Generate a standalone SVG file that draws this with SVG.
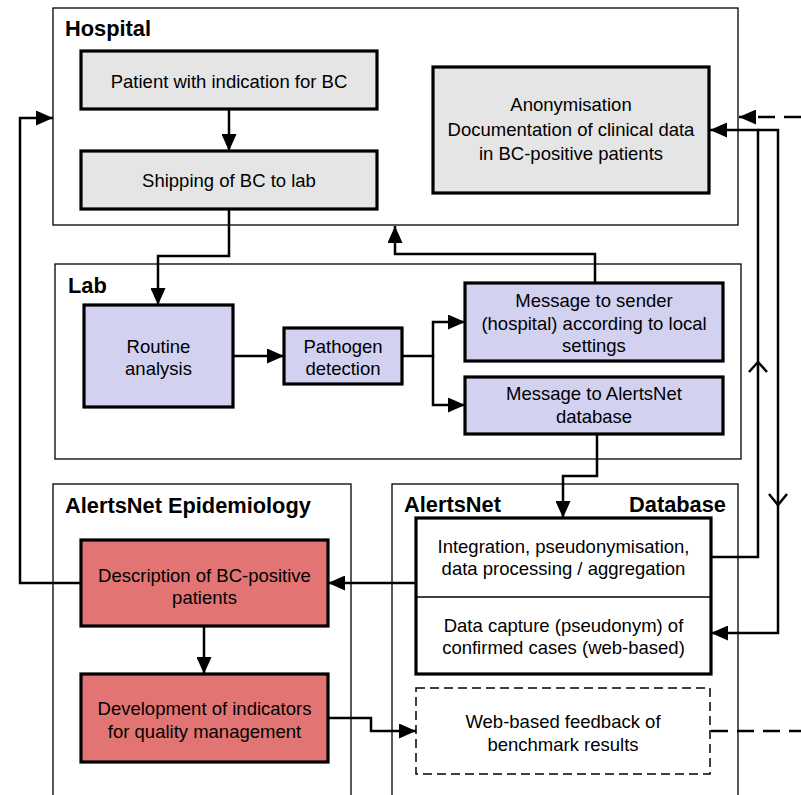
<svg xmlns="http://www.w3.org/2000/svg" width="801" height="795" viewBox="0 0 801 795">
<defs>
<style>
.cont{fill:#fff;stroke:#000;stroke-width:1.3}
.box{stroke:#000;stroke-width:3.2}
.gray{fill:#e5e5e5}
.lav{fill:#d2d2f0}
.red{fill:#e27474}
.white{fill:#fff}
.dbox{fill:#fff;stroke:#000;stroke-width:1.5;stroke-dasharray:9 5}
.t{font-family:"Liberation Sans",Arial,sans-serif;font-size:18.5px;fill:#000;text-anchor:middle}
.h{font-family:"Liberation Sans",Arial,sans-serif;font-size:21.8px;font-weight:bold;fill:#000}
.c{fill:none;stroke:#000;stroke-width:2.5}
.cd{fill:none;stroke:#000;stroke-width:2.5;stroke-dasharray:17 9}
</style>
<marker id="ah" markerWidth="17" markerHeight="15" refX="17" refY="7.5" orient="auto" markerUnits="userSpaceOnUse">
<path d="M0,0 L17,7.5 L0,15 z" fill="#000"/>
</marker>
</defs>
<rect width="801" height="795" fill="#fff"/>

<g id="hospital">
<rect class="cont" x="53" y="8" width="685" height="217"/>
<text class="h" x="65" y="36">Hospital</text>
</g>
<g id="lab">
<rect class="cont" x="55" y="264" width="686" height="195"/>
<text class="h" x="68" y="293">Lab</text>
</g>
<g id="epidemiology">
<rect class="cont" x="53" y="484" width="298" height="330"/>
<text class="h" x="65" y="513">AlertsNet Epidemiology</text>
</g>
<g id="database">
<rect class="cont" x="392" y="484" width="346" height="330"/>
<text class="h" x="404" y="512">AlertsNet</text>
<text class="h" x="726" y="512" text-anchor="end">Database</text>
</g>

<g id="patient">
<rect class="box gray" x="81" y="51" width="296" height="58"/>
<text class="t" x="229" y="88">Patient with indication for BC</text>
</g>
<g id="shipping">
<rect class="box gray" x="81" y="151" width="296" height="58"/>
<text class="t" x="229" y="187">Shipping of BC to lab</text>
</g>
<g id="anonymisation">
<rect class="box gray" x="433" y="67" width="276" height="126"/>
<text class="t" x="571" y="111">Anonymisation</text>
<text class="t" x="571" y="136">Documentation of clinical data</text>
<text class="t" x="571" y="160">in BC-positive patients</text>
</g>
<g id="routine">
<rect class="box lav" x="84" y="305" width="149" height="102"/>
<text class="t" x="158.5" y="353">Routine</text>
<text class="t" x="158.5" y="375">analysis</text>
</g>
<g id="pathogen">
<rect class="box lav" x="284" y="328" width="118" height="56"/>
<text class="t" x="343" y="353">Pathogen</text>
<text class="t" x="343" y="375">detection</text>
</g>
<g id="msg-sender">
<rect class="box lav" x="465" y="283" width="258" height="78"/>
<text class="t" x="594" y="307">Message to sender</text>
<text class="t" x="594" y="330">(hospital) according to local</text>
<text class="t" x="594" y="352">settings</text>
</g>
<g id="msg-alertsnet">
<rect class="box lav" x="465" y="377" width="258" height="57"/>
<text class="t" x="594" y="400">Message to AlertsNet</text>
<text class="t" x="594" y="423">database</text>
</g>
<g id="integration">
<rect class="box white" x="416" y="518" width="295" height="156"/>
<line x1="416" y1="597" x2="711" y2="597" stroke="#000" stroke-width="1.5"/>
<text class="t" x="563.5" y="553">Integration, pseudonymisation,</text>
<text class="t" x="563.5" y="575">data processing / aggregation</text>
<text class="t" x="563.5" y="632">Data capture (pseudonym) of</text>
<text class="t" x="563.5" y="654">confirmed cases (web-based)</text>
</g>
<g id="feedback">
<rect class="dbox" x="416" y="688" width="294" height="86"/>
<text class="t" x="563" y="728">Web-based feedback of</text>
<text class="t" x="563" y="751">benchmark results</text>
</g>
<g id="description">
<rect class="box red" x="81" y="540" width="247" height="86"/>
<text class="t" x="204.5" y="582">Description of BC-positive</text>
<text class="t" x="204.5" y="604">patients</text>
</g>
<g id="development">
<rect class="box red" x="81" y="674" width="247" height="88"/>
<text class="t" x="204.5" y="715">Development of indicators</text>
<text class="t" x="204.5" y="738">for quality management</text>
</g>

<g id="connectors">
<path class="c" d="M229,109 V151" marker-end="url(#ah)"/>
<path class="c" d="M229,210 V256 H158 V305" marker-end="url(#ah)"/>
<path class="c" d="M233,356 H284" marker-end="url(#ah)"/>
<path class="c" d="M402,356 H433 V322 H465" marker-end="url(#ah)"/>
<path class="c" d="M433,356 V405 H465" marker-end="url(#ah)"/>
<path class="c" d="M595,283 V254 H395 V226" marker-end="url(#ah)"/>
<path class="c" d="M597,434 V476 H563 V518" marker-end="url(#ah)"/>
<path class="c" d="M416,583 H328" marker-end="url(#ah)"/>
<path class="c" d="M81,583 H20 V118 H53" marker-end="url(#ah)"/>
<path class="c" d="M204,626 V674" marker-end="url(#ah)"/>
<path class="c" d="M328,718 H371 V731 H416" marker-end="url(#ah)"/>
<path class="c" d="M711,557 H758 V130 H710" marker-end="url(#ah)"/>
<path class="c" d="M758,130 H778 V633 H711" marker-end="url(#ah)"/>
<path class="c" d="M749,372 L758,362 L767,372"/>
<path class="c" d="M769,494 L778,505 L787,494"/>
<path class="cd" d="M801,117 H739" marker-end="url(#ah)"/>
<path class="cd" d="M711,731 H801"/>
</g>
</svg>
